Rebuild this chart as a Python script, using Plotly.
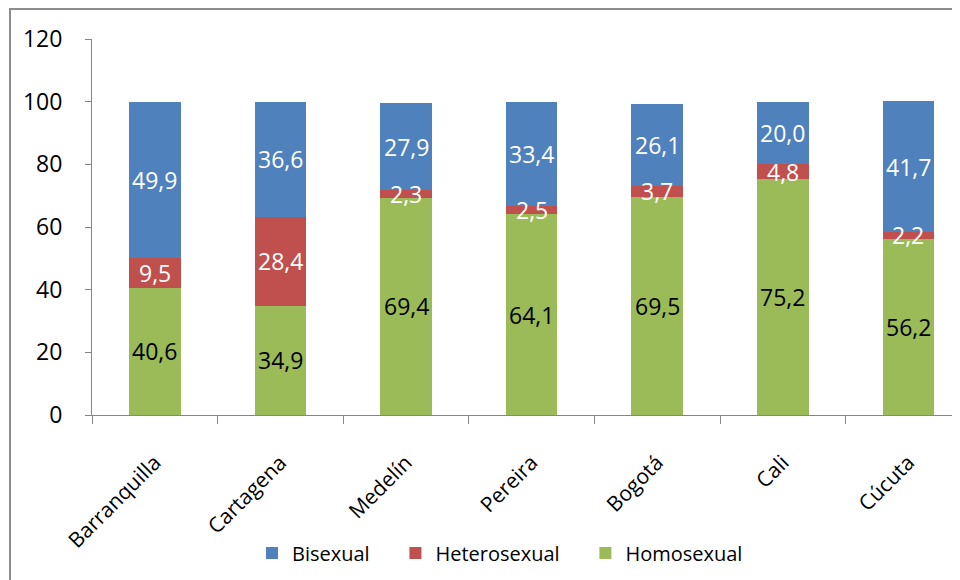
import plotly.graph_objects as go

cities = ["Barranquilla", "Cartagena", "Medelín", "Pereira", "Bogotá", "Cali", "Cúcuta"]
homosexual = [40.6, 34.9, 69.4, 64.1, 69.5, 75.2, 56.2]
heterosexual = [9.5, 28.4, 2.3, 2.5, 3.7, 4.8, 2.2]
bisexual = [49.9, 36.6, 27.9, 33.4, 26.1, 20.0, 41.7]
y_ticks = [0, 20, 40, 60, 80, 100, 120]

FONT = "Open Sans"
PAD = "\u00a0" * 4
series = [
    ("Homosexual", homosexual, "#9BBB59", "#000000"),
    ("Heterosexual", heterosexual, "#C0504D", "#FFFFFF"),
    ("Bisexual", bisexual, "#4F81BD", "#FFFFFF"),
]

fig = go.Figure()
base = [0.0] * len(cities)
annotations = []
for name, vals, color, tcol in series:
    fig.add_trace(go.Bar(name=name + PAD, x=cities, y=vals,
                         marker=dict(color=color, line=dict(width=0)), width=0.41))
    for i, v in enumerate(vals):
        annotations.append(dict(x=cities[i], y=base[i] + v / 2, xref="x", yref="y",
                                text=f"{v:.1f}".replace(".", ","), showarrow=False,
                                font=dict(family=FONT, size=23, color=tcol)))
        base[i] += v

# page offset of 8px (body margin) accounted for
L, T, B = 84, 31, 407
W, H = 960, 580
pw, ph = W - L, B - T

fig.update_layout(
    width=W, height=H, barmode="stack",
    margin=dict(l=L, r=0, t=T, b=H - B, pad=0),
    plot_bgcolor="white", paper_bgcolor="white",
    font=dict(family=FONT, size=21, color="#000000"),
    annotations=annotations,
    showlegend=True,
    legend=dict(orientation="h", traceorder="reversed", x=(244 - L) / pw, xanchor="left",
                y=(B - 545) / ph, yanchor="middle", font=dict(family=FONT, size=20),
                itemwidth=30),
    xaxis=dict(type="category", range=[-0.5, -0.5 + pw / 125.6], showline=True, linecolor="#868686",
               linewidth=1, ticks="outside", tickson="boundaries", ticklen=8, tickcolor="#868686",
               tickangle=-45, showgrid=False, tickfont=dict(family=FONT, size=21),
               ticklabelstandoff=26),
    yaxis=dict(range=[0, 120], tickvals=y_ticks, showline=True, linecolor="#868686", linewidth=1,
               ticks="outside", ticklen=6, tickcolor="#868686", showgrid=False, zeroline=False,
               tickfont=dict(family=FONT, size=23), ticklabelstandoff=18),
    shapes=[dict(type="rect", xref="paper", yref="paper",
                 x0=(2 - L) / pw, x1=1.2, y0=(B - 700) / ph, y1=(B - 1) / ph,
                 line=dict(color="#8C8C8C", width=2), fillcolor="rgba(0,0,0,0)", layer="below")],
)

fig.write_html("out.html")
